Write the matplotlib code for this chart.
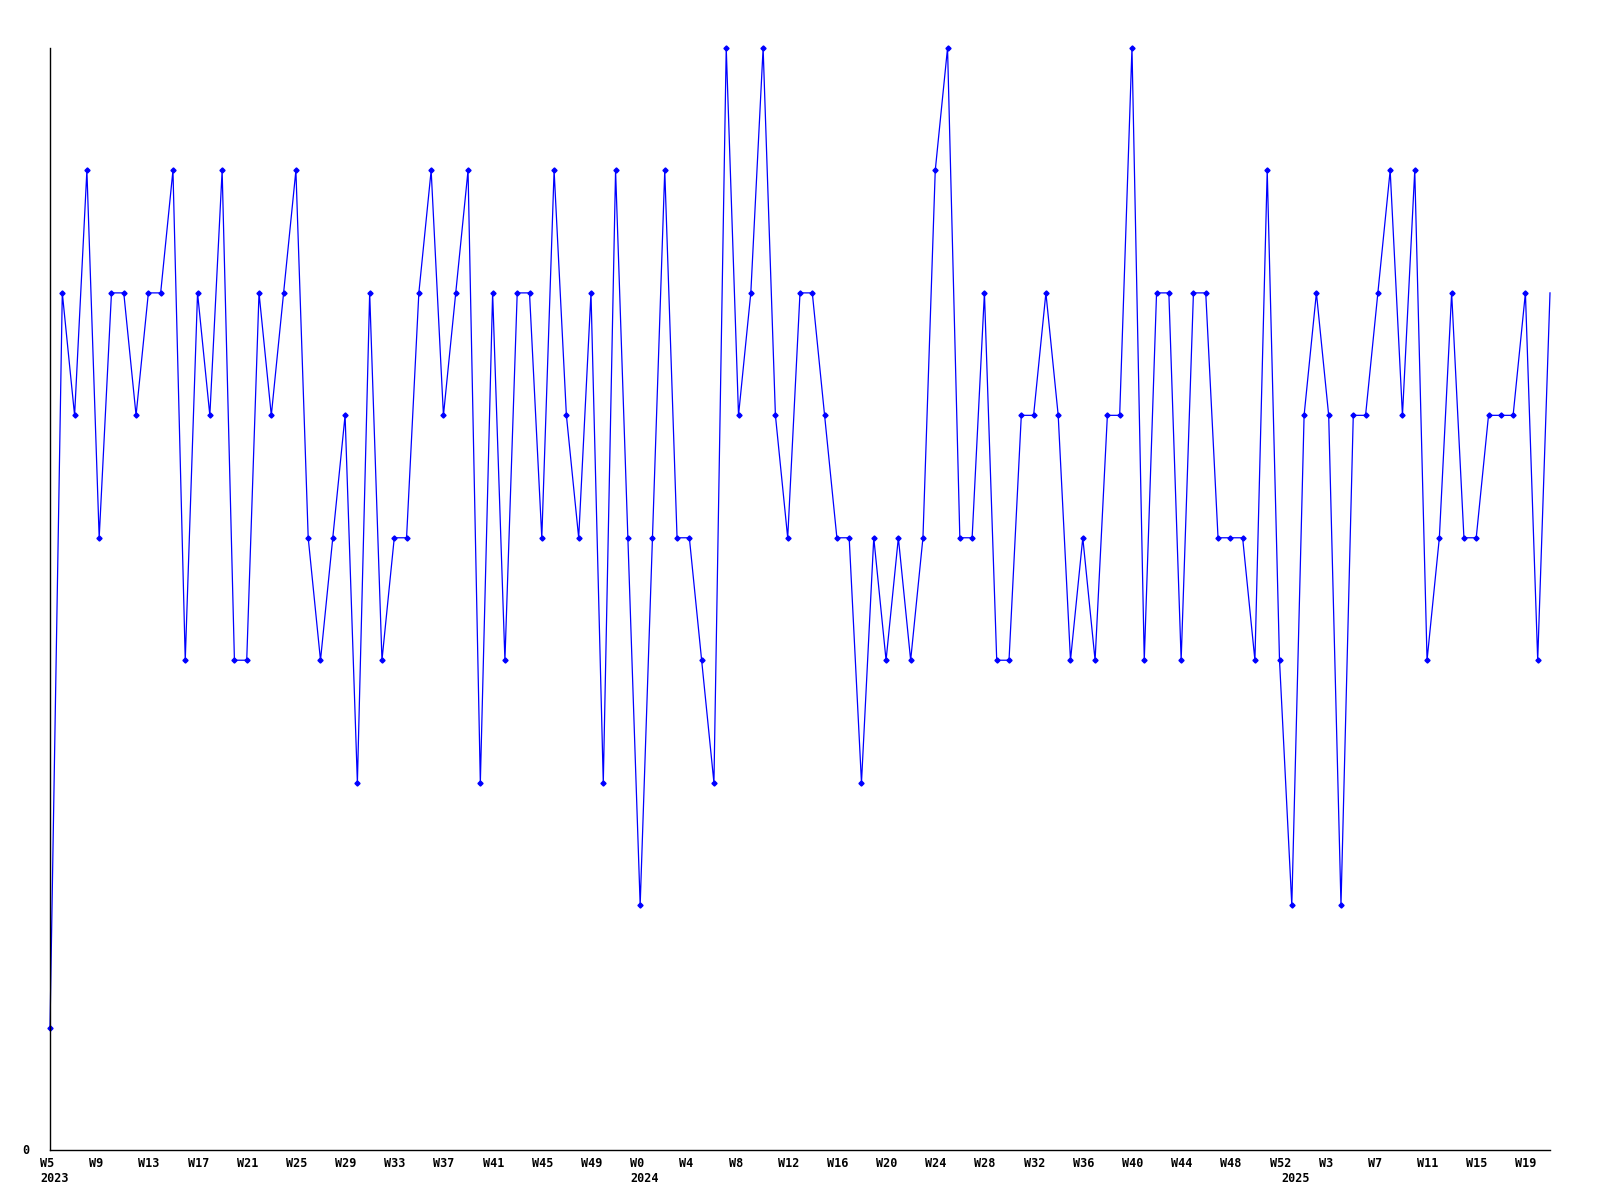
import matplotlib
matplotlib.use("Agg")
import matplotlib.pyplot as plt

values = [1, 7, 6, 8, 5, 7, 7, 6, 7, 7, 8, 4, 7, 6, 8, 4, 4, 7, 6, 7,
          8, 5, 4, 5, 6, 3, 7, 4, 5, 5, 7, 8, 6, 7, 8, 3, 7, 4, 7, 7,
          5, 8, 6, 5, 7, 3, 8, 5, 2, 5, 8, 5, 5, 4, 3, 9, 6, 7, 9, 6,
          5, 7, 7, 6, 5, 5, 3, 5, 4, 5, 4, 5, 8, 9, 5, 5, 7, 4, 4, 6,
          6, 7, 6, 4, 5, 4, 6, 6, 9, 4, 7, 7, 4, 7, 7, 5, 5, 5, 4, 8,
          4, 2, 6, 7, 6, 2, 6, 6, 7, 8, 6, 8, 4, 5, 7, 5, 5, 6, 6, 6,
          7, 4, 7]

week_tick_idx = [0, 4, 8, 12, 16, 20, 24, 28, 32, 36, 40, 44, 48, 52, 56, 60,
                 64, 68, 72, 76, 80, 84, 88, 92, 96, 100, 104, 108, 112, 116, 120]
week_tick_labels = ["W5", "W9", "W13", "W17", "W21", "W25", "W29", "W33", "W37",
                    "W41", "W45", "W49", "W0", "W4", "W8", "W12", "W16", "W20",
                    "W24", "W28", "W32", "W36", "W40", "W44", "W48", "W52", "W3",
                    "W7", "W11", "W15", "W19"]
year_idx = [0, 48, 101]
year_labels = ["2023", "2024", "2025"]

fig = plt.figure(figsize=(16, 12), dpi=100)
ax = fig.add_axes([50/1600, 1 - 1150/1200, 1500/1600, (1150 - 48)/1200])

x = list(range(len(values)))
ax.plot(x, values, color=(0, 0, 1), linewidth=0.9, clip_on=False,
        marker='D', markersize=2.6, markevery=list(range(len(values) - 1)))

ax.set_xlim(0, len(values) - 1)
ax.set_ylim(0, 9)
for s in ["top", "right"]:
    ax.spines[s].set_visible(False)
for s in ["left", "bottom"]:
    ax.spines[s].set_linewidth(1.0)
    ax.spines[s].set_color("black")
ax.set_xticks([])
ax.set_yticks([])

font = dict(family="DejaVu Sans Mono", fontweight="bold", fontsize=8.5)
for i, lab in zip(week_tick_idx, week_tick_labels):
    ax.annotate(lab, xy=(i, 0), xycoords=("data", "axes fraction"),
                xytext=(-10, -7), textcoords="offset pixels",
                ha="left", va="top", **font)
for i, lab in zip(year_idx, year_labels):
    ax.annotate(lab, xy=(i, 0), xycoords=("data", "axes fraction"),
                xytext=(-10, -22), textcoords="offset pixels",
                ha="left", va="top", **font)
ax.annotate("0", xy=(0, 0), xycoords="axes fraction",
            xytext=(-28, 0), textcoords="offset pixels",
            ha="left", va="center", **font)

fig.savefig("out.png", dpi=100)
